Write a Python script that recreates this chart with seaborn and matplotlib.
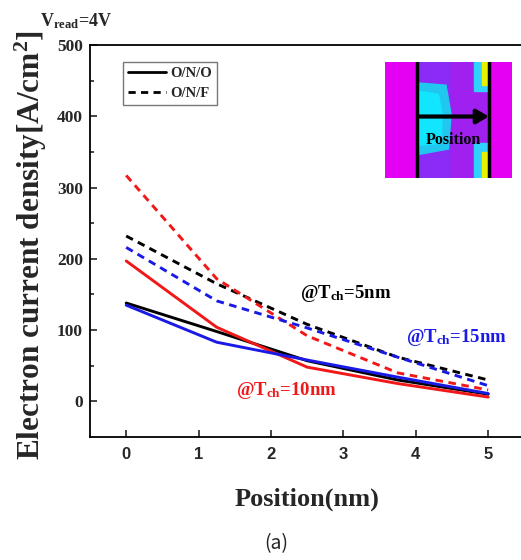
import numpy as np
import pandas as pd
import seaborn as sns
import matplotlib
matplotlib.use("Agg")
import matplotlib.pyplot as plt
from matplotlib.lines import Line2D
from matplotlib.patches import Rectangle, Polygon

# ---- data ----
position = [0, 1.25, 2.5, 3.75, 5]
tch_labels = ["5nm", "10nm", "15nm"]
ono_5nm = [138, 98, 57, 30, 10]
ono_10nm = [197, 104, 48, 25, 6]
ono_15nm = [135, 83, 58, 34, 11]
onf_5nm = [232, 165, 108, 62, 30]
onf_10nm = [317, 172, 92, 40, 16]
onf_15nm = [216, 141, 103, 62, 22]
structures = ["O/N/O", "O/N/F"]
y_ticks = [0, 100, 200, 300, 400, 500]
x_ticks = [0, 1, 2, 3, 4, 5]

rows = []
for struct, series in [("O/N/O", [ono_5nm, ono_10nm, ono_15nm]),
                       ("O/N/F", [onf_5nm, onf_10nm, onf_15nm])]:
    for t, vals in zip(tch_labels, series):
        for x, v in zip(position, vals):
            rows.append({"Position": x, "J": v, "Tch": t, "Structure": struct})
df = pd.DataFrame(rows)

sns.set_theme(style="ticks")
plt.rcParams["mathtext.fontset"] = "custom"
plt.rcParams["mathtext.rm"] = "Liberation Serif:bold"
plt.rcParams["mathtext.bf"] = "Liberation Serif:bold"
plt.rcParams["mathtext.it"] = "Liberation Serif:bold"

W, H = 521, 560
fig = plt.figure(figsize=(W / 100, H / 100), dpi=100)
ax = fig.add_axes([90 / W, 1 - 437 / H, (524.4 - 90) / W, (437 - 45) / H])

palette = {"5nm": "#000000", "10nm": "#f01818", "15nm": "#1a1ae6"}
sns.lineplot(data=df, x="Position", y="J", hue="Tch", style="Structure",
             hue_order=tch_labels, style_order=structures,
             palette=palette,
             dashes={"O/N/O": "", "O/N/F": (2.6, 1.9)},
             linewidth=2.1, estimator=None, sort=False, legend=False, ax=ax)

ax.set_xlim(-0.5, 5.5)
ax.set_ylim(-50, 500)
ax.set_xticks(x_ticks)
ax.set_yticks(y_ticks)
ax.set_yticks([50, 150, 250, 350, 450], minor=True)
ax.set_xlabel("")
ax.set_ylabel("")
ax.tick_params(axis="both", which="major", direction="in", length=5, width=1.2)
ax.tick_params(axis="y", which="minor", direction="in", length=3, width=1.2)
for lab in ax.get_yticklabels():
    lab.set_fontfamily("Liberation Serif")
    lab.set_fontweight("bold")
    lab.set_fontsize(12.5)
for lab in ax.get_xticklabels():
    lab.set_fontfamily("Liberation Sans")
    lab.set_fontweight("bold")
    lab.set_fontsize(12)
ax.tick_params(axis="x", pad=7)
ax.tick_params(axis="y", pad=5)
for s in ax.spines.values():
    s.set_linewidth(1.3)
    s.set_color("black")

# legend
handles = [Line2D([], [], color="black", lw=2.0, ls="-"),
           Line2D([], [], color="black", lw=2.0, dashes=(2.6, 1.9))]
leg = ax.legend(handles, structures, loc="upper left",
                bbox_to_anchor=((123 - 90) / 434.4, 1 - (62 - 45) / 392),
                borderaxespad=0, frameon=True, fancybox=False,
                prop={"family": "Liberation Serif", "weight": "bold", "size": 10.5},
                handlelength=2.6, handletextpad=0.3, labelspacing=0.45,
                borderpad=0.35)
leg.get_frame().set_edgecolor("#555555")
leg.get_frame().set_linewidth(1.0)

# annotations
ann_kw = dict(fontfamily="Liberation Serif", fontweight="bold", fontsize=13.5,
              va="baseline", ha="left")
ax.text(2.4, 145, r"@T$_{\mathbf{ch}}$=5nm", color=palette["5nm"], **ann_kw)
ax.text(3.86, 83, r"@T$_{\mathbf{ch}}$=15nm", color=palette["15nm"], **ann_kw)
ax.text(1.51, 8.5, r"@T$_{\mathbf{ch}}$=10nm", color=palette["10nm"], **ann_kw)

# axis labels and texts
fig.text(31 / W, 1 - 245 / H, r"Electron current density[A/cm$^{\mathbf{2}}$]",
         rotation=90, ha="center", va="center", fontfamily="Liberation Serif",
         fontweight="bold", fontsize=22.5)
fig.text(307 / W, 1 - 499 / H, "Position(nm)", ha="center", va="center",
         fontfamily="Liberation Serif", fontweight="bold", fontsize=19)
fig.text(40 / W, 1 - 21 / H, r"V$_{\mathbf{read}}$=4V", ha="left", va="center",
         fontfamily="Liberation Serif", fontweight="bold", fontsize=13)
fig.text(276 / W, 1 - 544 / H, "(a)", ha="center", va="center",
         fontfamily=["Noto Sans CJK KR", "DejaVu Sans"], fontsize=14)

# inset schematic
ins = fig.add_axes([385 / W, 1 - 178 / H, 127 / W, 116 / H])
ins.set_xlim(0, 1)
ins.set_ylim(0, 1)
ins.set_xticks([])
ins.set_yticks([])
for s in ins.spines.values():
    s.set_visible(False)
ins.set_facecolor("#e400f2")
ins.add_patch(Rectangle((0.25, 0), 0.57, 1, color="#8a2cf5", zorder=1))
ins.add_patch(Rectangle((0.52, 0), 0.3, 1, color="#a020f0", zorder=1))
ins.add_patch(Polygon([[0.25, 0.82], [0.48, 0.8], [0.52, 0.55], [0.5, 0.25],
                       [0.25, 0.2]], closed=True, color="#20c8f0", zorder=2))
ins.add_patch(Polygon([[0.25, 0.75], [0.42, 0.72], [0.45, 0.55], [0.44, 0.3],
                       [0.25, 0.28]], closed=True, color="#12e6ff", zorder=2))
ins.add_patch(Rectangle((0.7, 0.75), 0.12, 0.25, color="#30d0ff", zorder=2))
ins.add_patch(Rectangle((0.76, 0.8), 0.06, 0.2, color="#e8f000", zorder=3))
ins.add_patch(Rectangle((0.7, 0.0), 0.12, 0.3, color="#30d0ff", zorder=2))
ins.add_patch(Rectangle((0.76, 0.0), 0.06, 0.22, color="#e8f000", zorder=3))
ins.plot([0.25, 0.25], [0, 1], color="black", lw=2.5, zorder=4)
ins.plot([0.82, 0.82], [0, 1], color="black", lw=2.5, zorder=4)
ins.annotate("", xy=(0.84, 0.53), xytext=(0.25, 0.53),
             arrowprops=dict(arrowstyle="-|>,head_length=0.6,head_width=0.35",
                             color="black", lw=3), zorder=5)
ins.text(0.535, 0.33, "Position", ha="center", va="center",
         fontfamily="Liberation Serif", fontweight="bold", fontsize=11.5,
         color="black", zorder=6)

fig.savefig("out.png", dpi=100)
